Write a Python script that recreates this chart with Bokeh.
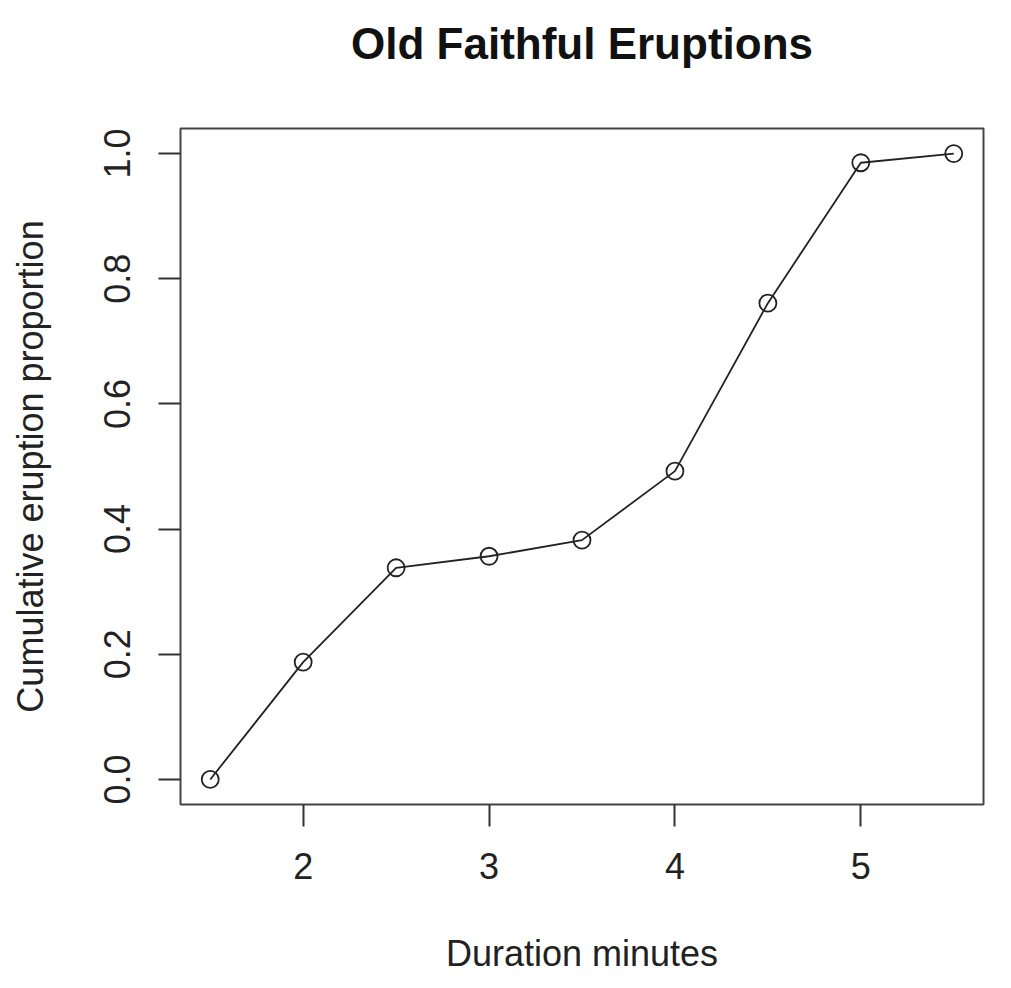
from bokeh.plotting import figure
from bokeh.models import FixedTicker, PrintfTickFormatter, Range1d, Title
from bokeh.embed import file_html
from bokeh.resources import INLINE

breaks = [1.5, 2.0, 2.5, 3.0, 3.5, 4.0, 4.5, 5.0, 5.5]
cum_prop = [0.0, 0.1875, 0.3382, 0.3566, 0.3824, 0.4926, 0.7610, 0.9853, 1.0]
x_ticks = [2, 3, 4, 5]
y_ticks = [0.0, 0.2, 0.4, 0.6, 0.8, 1.0]
title_text = "Old Faithful Eruptions"

FONT = "Liberation Sans"

p = figure(width=1005, height=984, output_backend="svg", toolbar_location=None,
           frame_width=803, frame_height=676,
           x_range=Range1d(1.34, 5.66), y_range=Range1d(-0.04, 1.04))
p.min_border_left = 180
p.min_border_top = 128
p.min_border_right = 22
p.min_border_bottom = 180

# blank spacer between plot box and title, then the title itself
p.add_layout(Title(text=" ", text_font=FONT, text_font_size="40px",
                   standoff=10), "above")
p.add_layout(Title(text=title_text, text_font=FONT, text_font_size="44px",
                   text_font_style="bold", align="center",
                   text_color="#111111", standoff=10), "above")

p.xgrid.visible = False
p.ygrid.visible = False
p.outline_line_color = "#444444"
p.outline_line_width = 2
p.background_fill_color = "white"
p.border_fill_color = "white"

for ax in (p.xaxis[0], p.yaxis[0]):
    ax.axis_line_color = None
    ax.major_tick_in = 0
    ax.major_tick_out = 22
    ax.major_tick_line_width = 2
    ax.major_tick_line_color = "#333333"
    ax.minor_tick_line_color = None
    ax.major_label_text_font = FONT
    ax.major_label_text_font_size = "36px"
    ax.major_label_text_color = "#222222"
    ax.axis_label_text_font = FONT
    ax.axis_label_text_font_size = "36px"
    ax.axis_label_text_font_style = "normal"
    ax.axis_label_text_color = "#222222"

p.xaxis[0].ticker = FixedTicker(ticks=x_ticks)
p.xaxis[0].axis_label = "Duration minutes"
p.xaxis[0].major_label_standoff = 26
p.xaxis[0].axis_label_standoff = 51

p.yaxis[0].ticker = FixedTicker(ticks=y_ticks)
p.yaxis[0].formatter = PrintfTickFormatter(format="%.1f")
p.yaxis[0].major_label_orientation = "vertical"
p.yaxis[0].axis_label = "Cumulative eruption proportion"
p.yaxis[0].major_label_standoff = 28
p.yaxis[0].axis_label_standoff = 51

p.line(breaks, cum_prop, line_color="#222222", line_width=1.8)
p.scatter(breaks, cum_prop, marker="circle", size=17, fill_color=None,
          line_color="#222222", line_width=1.8)

open("out.html", "w").write(file_html(p, INLINE))
